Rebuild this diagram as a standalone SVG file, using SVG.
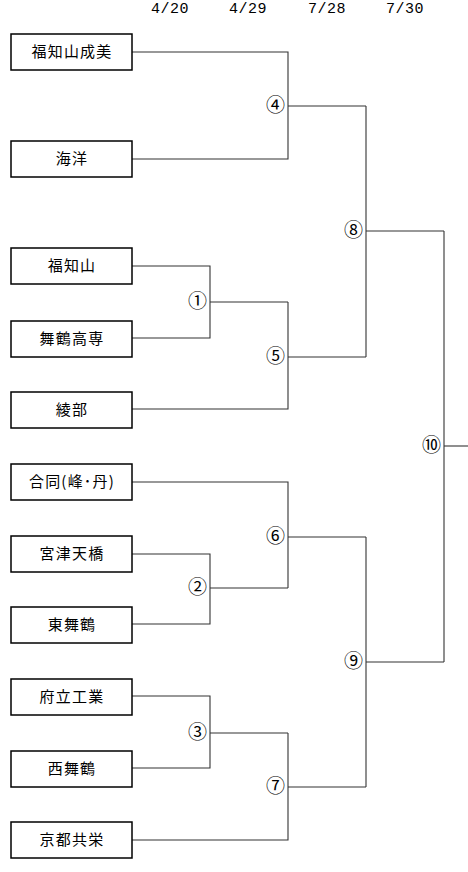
<svg xmlns="http://www.w3.org/2000/svg" width="468" height="872" viewBox="0 0 468 872">
<style>
.box{fill:#fff;stroke:#000;stroke-width:1.5}
.t{font-family:"Noto Sans CJK JP","Liberation Sans",sans-serif;font-size:15px;letter-spacing:1.2px;text-anchor:middle;fill:#000}
.d{font-family:"Liberation Mono",monospace;font-size:15px;letter-spacing:0.5px;text-anchor:middle;fill:#000}
.n{font-family:"Noto Sans CJK JP","Liberation Sans",sans-serif;font-size:19px;text-anchor:end;fill:#000}
.c{fill:none;stroke:#333;stroke-width:1.1}
</style>
<rect width="468" height="872" fill="#fff"/>
<g id="dates">
<text class="d" x="170" y="13">4/20</text>
<text class="d" x="248" y="13">4/29</text>
<text class="d" x="327" y="13">7/28</text>
<text class="d" x="405" y="13">7/30</text>
</g>
<g id="connectors">
<polyline class="c" points="132,52 288,52 288,159 132,159"/>
<line class="c" x1="288" y1="106" x2="366" y2="106"/>
<polyline class="c" points="132,266 210,266 210,338 132,338"/>
<line class="c" x1="210" y1="302" x2="288" y2="302"/>
<polyline class="c" points="288,302 288,409 132,409"/>
<line class="c" x1="288" y1="357" x2="366" y2="357"/>
<polyline class="c" points="366,106 366,357"/>
<line class="c" x1="366" y1="231" x2="444" y2="231"/>
<polyline class="c" points="132,554 210,554 210,624 132,624"/>
<line class="c" x1="210" y1="588" x2="288" y2="588"/>
<polyline class="c" points="132,482 288,482 288,588"/>
<line class="c" x1="288" y1="537" x2="366" y2="537"/>
<polyline class="c" points="132,696 210,696 210,768 132,768"/>
<line class="c" x1="210" y1="733" x2="288" y2="733"/>
<polyline class="c" points="288,733 288,840 132,840"/>
<line class="c" x1="288" y1="787" x2="366" y2="787"/>
<polyline class="c" points="366,537 366,787"/>
<line class="c" x1="366" y1="662" x2="444" y2="662"/>
<polyline class="c" points="444,231 444,662"/>
<line class="c" x1="444" y1="446" x2="468" y2="446"/>
</g>
<g id="labels">
<text class="n" x="285" y="112">④</text>
<text class="n" x="207" y="308">①</text>
<text class="n" x="285" y="363">⑤</text>
<text class="n" x="363" y="237">⑧</text>
<text class="n" x="207" y="594">②</text>
<text class="n" x="285" y="543">⑥</text>
<text class="n" x="207" y="739">③</text>
<text class="n" x="285" y="793">⑦</text>
<text class="n" x="363" y="668">⑨</text>
<text class="n" x="441" y="452">⑩</text>
</g>
<g id="team1"><rect class="box" x="11" y="34" width="121" height="36"/><text class="t" x="72" y="57">福知山成美</text></g>
<g id="team2"><rect class="box" x="11" y="141" width="121" height="36"/><text class="t" x="72" y="164">海洋</text></g>
<g id="team3"><rect class="box" x="11" y="248" width="121" height="36"/><text class="t" x="72" y="271">福知山</text></g>
<g id="team4"><rect class="box" x="11" y="321" width="121" height="36"/><text class="t" x="72" y="344">舞鶴高専</text></g>
<g id="team5"><rect class="box" x="11" y="392" width="121" height="36"/><text class="t" x="72" y="415">綾部</text></g>
<g id="team6"><rect class="box" x="11" y="464" width="121" height="36"/><text class="t" x="72" y="487">合同(峰･丹)</text></g>
<g id="team7"><rect class="box" x="11" y="536" width="121" height="36"/><text class="t" x="72" y="559">宮津天橋</text></g>
<g id="team8"><rect class="box" x="11" y="607" width="121" height="36"/><text class="t" x="72" y="630">東舞鶴</text></g>
<g id="team9"><rect class="box" x="11" y="679" width="121" height="36"/><text class="t" x="72" y="702">府立工業</text></g>
<g id="team10"><rect class="box" x="11" y="751" width="121" height="36"/><text class="t" x="72" y="774">西舞鶴</text></g>
<g id="team11"><rect class="box" x="11" y="822" width="121" height="36"/><text class="t" x="72" y="845">京都共栄</text></g>
</svg>
